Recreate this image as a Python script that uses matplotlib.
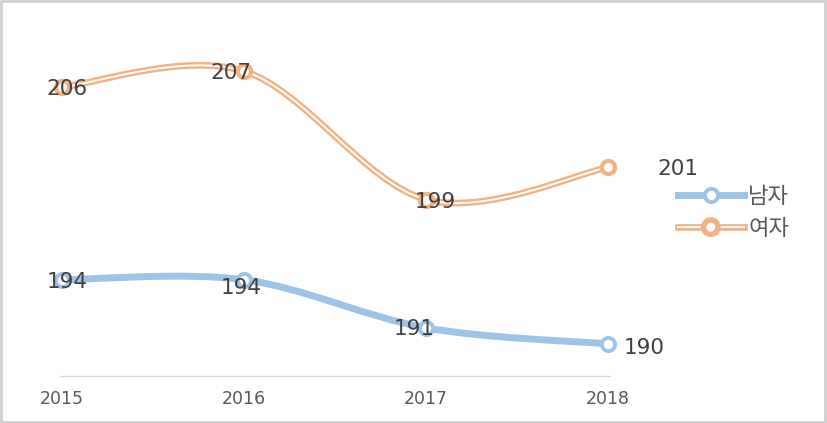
import numpy as np
import matplotlib
matplotlib.use("Agg")
import matplotlib.pyplot as plt
from matplotlib.path import Path
from matplotlib.patches import PathPatch, Rectangle
from matplotlib.lines import Line2D
import matplotlib.patheffects as pe

plt.rcParams['font.family'] = ['DejaVu Sans', 'Noto Sans CJK KR']

years = ['2015', '2016', '2017', '2018']
male = [194, 194, 191, 190]
female = [206, 207, 199, 201]
series_names = ['남자', '여자']

blue = '#9DC3E6'
orange = '#F4B183'
label_color = '#404040'

# label offsets in pixels (dx, dy) for each point
male_offsets = [(5, -2), (-3, -8), (-12, -1), (36, -4)]
female_offsets = [(5, -2), (-13, -2), (9, -2), (70, -2)]


def smooth_path(xs, ys):
    # excel-like smoothed line as cubic bezier segments
    pts = np.column_stack([xs, ys]).astype(float)
    n = len(pts)
    verts = [pts[0]]
    codes = [Path.MOVETO]
    for i in range(n - 1):
        p_prev = pts[max(i - 1, 0)]
        p0 = pts[i]
        p1 = pts[i + 1]
        p_next = pts[min(i + 2, n - 1)]
        c1 = p0 + (p1 - p_prev) / 6
        c2 = p1 - (p_next - p0) / 6
        verts += [c1, c2, p1]
        codes += [Path.CURVE4] * 3
    return Path(verts, codes)


fig = plt.figure(figsize=(8.27, 4.23), dpi=100)
ax = fig.add_axes([60 / 827, 47 / 423, 550 / 827, 353 / 423])
x = np.arange(len(years))

# male line
ax.add_patch(PathPatch(smooth_path(x, male), fill=False, edgecolor=blue,
                       lw=5, capstyle='round', joinstyle='round', zorder=2))
ax.plot(x, male, linestyle='none', marker='o', ms=9.5, mfc='white', mec=blue,
        mew=2.8, zorder=3, clip_on=False)

# female line (double line style)
ax.add_patch(PathPatch(smooth_path(x, female), fill=False, edgecolor='white',
                       lw=1.4, zorder=2,
                       path_effects=[pe.Stroke(linewidth=4.8, foreground=orange), pe.Normal()]))
ax.plot(x, female, linestyle='none', marker='o', ms=9.5, mfc='white', mec=orange,
        mew=3, zorder=3, clip_on=False)

for xi, v, off in zip(x, male, male_offsets):
    ax.annotate(str(v), (xi, v), xytext=off, textcoords='offset pixels',
                ha='center', va='center', fontsize=15.5, color=label_color,
                zorder=5, annotation_clip=False)
for xi, v, off in zip(x, female, female_offsets):
    ax.annotate(str(v), (xi, v), xytext=off, textcoords='offset pixels',
                ha='center', va='center', fontsize=15.5, color=label_color,
                zorder=5, annotation_clip=False)

ax.set_xlim(-0.01, 3.01)
ax.set_ylim(188, 210)
ax.set_xticks(x)
ax.set_xticklabels(years, fontsize=12.5, color='#595959')
ax.tick_params(axis='x', length=0, pad=10)
ax.set_yticks([])
for s in ['top', 'right', 'left']:
    ax.spines[s].set_visible(False)
ax.spines['bottom'].set_color('#D9D9D9')
ax.spines['bottom'].set_linewidth(1)

# legend
h_male = Line2D([], [], color=blue, lw=5, marker='o', ms=9.5, mfc='white',
                mec=blue, mew=2.8)
h_female = Line2D([], [], color='white', lw=1.4, marker='o', ms=9.5, mfc='white',
                  mec=orange, mew=3,
                  path_effects=[pe.Stroke(linewidth=4.8, foreground=orange), pe.Normal()])
fig.legend([h_male, h_female], series_names, loc='upper left',
           bbox_to_anchor=(678 / 827, 1 - 185 / 423), frameon=False,
           prop={'family': ['Noto Sans CJK KR'], 'size': 16},
           labelcolor='#595959', handlelength=2.95, handletextpad=0.2,
           labelspacing=0.4, borderpad=0, borderaxespad=0)

# outer border
fig.patches.append(Rectangle((0.001, 0.002), 0.997, 0.995, transform=fig.transFigure,
                             fill=False, edgecolor='#D0D0D0', lw=2))

fig.savefig('out.png', dpi=100)
